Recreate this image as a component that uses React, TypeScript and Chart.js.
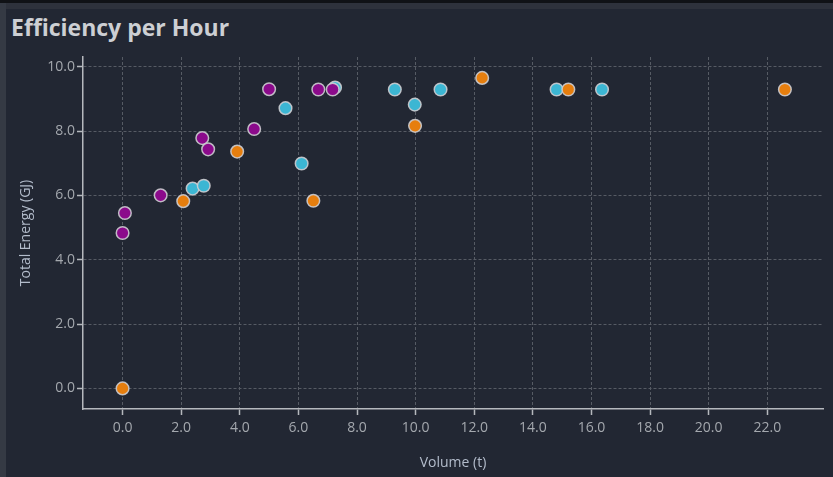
import React, { useEffect, useRef } from "react";
import { Chart, registerables } from "chart.js";

Chart.register(...registerables);

const TITLE = "Efficiency per Hour";
const X_TITLE = "Volume (t)";
const Y_TITLE = "Total Energy (GJ)";

const xTicks = [0, 2, 4, 6, 8, 10, 12, 14, 16, 18, 20, 22];
const yTicks = [0, 2, 4, 6, 8, 10];

const orangeX = [0, 2.07, 3.91, 6.51, 9.98, 12.27, 15.21, 22.6];
const orangeY = [0, 5.82, 7.36, 5.83, 8.16, 9.65, 9.29, 9.29];

const purpleX = [0, 0.08, 1.3, 2.72, 2.92, 4.49, 5.0, 6.68, 7.17];
const purpleY = [4.83, 5.45, 6.0, 7.78, 7.43, 8.06, 9.3, 9.29, 9.29];

const cyanX = [2.39, 2.77, 5.56, 6.11, 7.25, 9.29, 9.97, 10.85, 14.81, 16.36];
const cyanY = [6.21, 6.3, 8.71, 6.99, 9.35, 9.29, 8.82, 9.29, 9.29, 9.29];

const zip = (xs: number[], ys: number[]) => xs.map((x, i) => ({ x, y: ys[i] }));

const FONT = "'Open Sans', sans-serif";

export default function App() {
  const ref = useRef<HTMLCanvasElement>(null);
  useEffect(() => {
    if (!ref.current) return;
    const pointDs = (label: string, data: any[], color: string) => ({
      label,
      data,
      backgroundColor: color,
      borderColor: "rgba(205,205,210,0.9)",
      borderWidth: 1.5,
      pointRadius: 6.3,
      pointHoverRadius: 6.3,
    });
    const chart = new Chart(ref.current, {
      type: "scatter",
      data: {
        datasets: [
          pointDs("Orange", zip(orangeX, orangeY), "#e67e0e"),
          pointDs("Purple", zip(purpleX, purpleY), "#8b0a8b"),
          pointDs("Cyan", zip(cyanX, cyanY), "#3cb6d3"),
        ],
      },
      options: {
        animation: false,
        responsive: false,
        devicePixelRatio: 1,
        layout: { padding: { top: 57, right: 10, left: 0, bottom: 0 } },
        plugins: { legend: { display: false }, tooltip: { enabled: false } },
        scales: {
          x: {
            type: "linear",
            min: -1.35,
            max: 23.9,
            afterBuildTicks: (s: any) => {
              s.ticks = xTicks.map((v) => ({ value: v }));
            },
            afterFit: (s: any) => {
              s.height = 68;
            },
            ticks: {
              color: "#a4a8ae",
              font: { family: FONT, size: 14 },
              padding: 5,
              maxRotation: 0,
              autoSkip: false,
              callback: (v: any) => Number(v).toFixed(1),
            },
            grid: {
              color: "#565b64",
              lineWidth: 1,
              tickLength: 6,
              tickColor: "#b5b8bd",
              tickWidth: 1.5,
            },
            border: { display: true, color: "#b5b8bd", width: 1.5, dash: [3, 2] },
            title: {
              display: true,
              text: X_TITLE,
              color: "#b3bccb",
              font: { family: FONT, size: 14 },
              padding: { top: 0, bottom: 6 },
            },
          },
          y: {
            type: "linear",
            min: -0.64,
            max: 10.3,
            afterBuildTicks: (s: any) => {
              s.ticks = yTicks.map((v) => ({ value: v }));
            },
            afterFit: (s: any) => {
              s.width = 83;
            },
            ticks: {
              color: "#a4a8ae",
              font: { family: FONT, size: 14 },
              padding: 2,
              autoSkip: false,
              callback: (v: any) => Number(v).toFixed(1),
            },
            grid: {
              color: "#565b64",
              lineWidth: 1,
              tickLength: 6,
              tickColor: "#b5b8bd",
              tickWidth: 1.5,
            },
            border: { display: true, color: "#b5b8bd", width: 1.5, dash: [3, 2] },
            title: {
              display: true,
              text: Y_TITLE,
              color: "#b3bccb",
              font: { family: FONT, size: 14 },
              padding: { top: 18, bottom: 0 },
            },
          },
        },
      },
    });
    return () => chart.destroy();
  }, []);

  return (
    <div
      style={{
        position: "fixed",
        left: 0,
        top: 0,
        width: 833,
        height: 477,
        background: "#222733",
        overflow: "hidden",
      }}
    >
      <div style={{ position: "absolute", left: 0, top: 0, width: 833, height: 3, background: "#101216" }} />
      <div style={{ position: "absolute", left: 0, top: 3, width: 833, height: 6, background: "#2e323c" }} />
      <div style={{ position: "absolute", left: 0, top: 3, width: 6, height: 474, background: "#353a44" }} />
      <div
        style={{
          position: "absolute",
          left: 11,
          top: 16,
          fontFamily: FONT,
          fontWeight: 700,
          fontSize: 23,
          lineHeight: "22px",
          color: "#cdcfd3",
          whiteSpace: "nowrap",
        }}
      >
        {TITLE}
      </div>
      <canvas
        ref={ref}
        width={833}
        height={477}
        style={{ position: "absolute", left: 0, top: 0, width: 833, height: 477 }}
      />
    </div>
  );
}
